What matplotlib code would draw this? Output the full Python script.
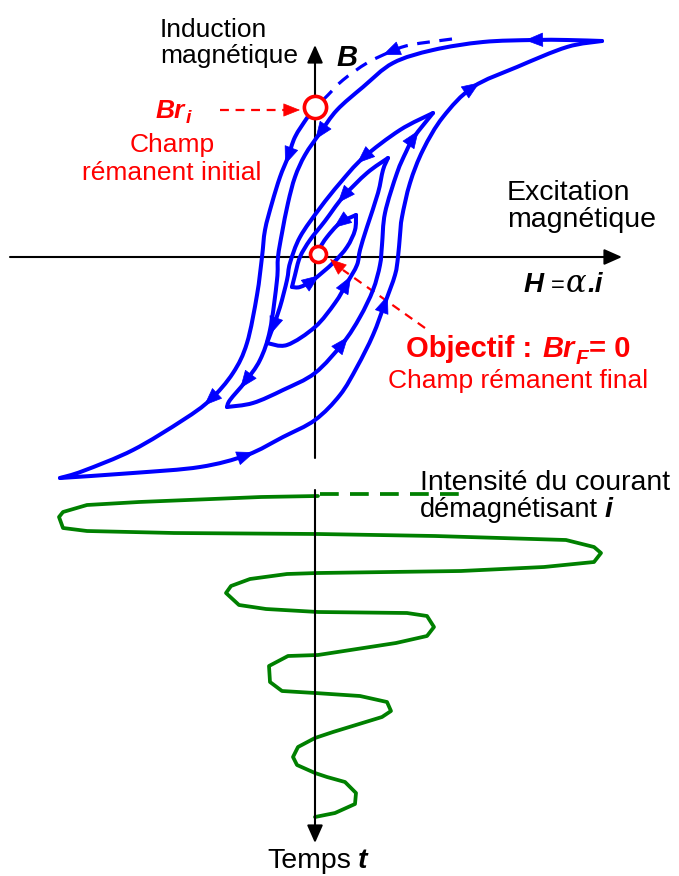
import numpy as np
import matplotlib.pyplot as plt
from matplotlib.path import Path
from matplotlib.patches import PathPatch

plt.rcParams['font.family'] = ['Liberation Sans', 'DejaVu Sans']

BLUE = '#0000ff'
GREEN = '#008000'
RED = '#ff0000'

# hysteresis spiral, drawing units (H to the right, B downwards as on the page)
dashed_start = [(452, 39), (410, 45), (390, 52), (367, 63), (343, 80), (328, 95), (319, 104)]
d0 = [(315, 107), (307, 118), (295, 137), (288, 157), (280, 177), (272, 203), (265, 230),
      (262, 257), (257, 295), (247, 343), (233, 373), (210, 400), (183, 420), (133, 450),
      (83, 471), (60, 478)]
a1 = [(60, 478), (133, 473), (200, 467), (247, 455), (283, 437), (315, 420), (340, 395),
      (357, 367), (373, 335), (385, 303), (395, 275), (398, 257), (400, 235), (402, 217),
      (410, 183), (423, 150), (443, 117), (473, 87), (517, 67), (567, 47), (602, 41)]
d1 = [(602, 41), (567, 40), (533, 40), (483, 42), (433, 50), (393, 63), (363, 87),
      (337, 110), (320, 133), (305, 155), (295, 177), (288, 203), (282, 233), (278, 257),
      (277, 280), (270, 330), (260, 360), (245, 382), (230, 400), (227, 407)]
a2 = [(227, 407), (253, 403), (283, 390), (315, 373), (343, 343), (360, 317), (373, 290),
      (380, 265), (382, 245), (385, 213), (397, 173), (406, 152), (414, 137), (433, 113)]
d2 = [(433, 113), (400, 130), (363, 158), (340, 183), (320, 208), (300, 237), (290, 263),
      (287, 280), (280, 307), (273, 327), (267, 343)]
a3 = [(267, 343), (287, 345), (315, 327), (335, 303), (347, 283), (357, 265), (360, 250),
      (367, 227), (378, 193), (383, 170), (388, 158)]
d3 = [(388, 158), (367, 173), (343, 197), (325, 221), (310, 240), (300, 257), (295, 275),
      (292, 287)]
a4 = [(292, 287), (300, 287), (313, 280), (333, 263), (347, 247), (355, 230), (356, 215)]
d4 = [(356, 215), (340, 223), (327, 237), (319, 249)]

branches = [d0, a1, d1, a2, d2, a3, d3, a4, d4]
# which point of each branch carries a direction arrow
arrow_idx = {'dashed': [2], 'd0': [3, 11], 'a1': [3, 9, 17], 'd1': [2, 8, 17],
             'a2': [4, 12], 'd2': [2, 9], 'a3': [4], 'd3': [2], 'a4': [2], 'd4': [1]}

# demagnetising current vs time
current = [(318, 496), (261, 497), (139, 502), (87, 505), (63, 512), (59, 517), (63, 528),
           (87, 531), (174, 533), (318, 534), (435, 536), (566, 540), (594, 547), (601, 553),
           (594, 562), (544, 567), (461, 571), (318, 573), (287, 574), (250, 579), (231, 586),
           (226, 593), (239, 605), (266, 609), (318, 612), (407, 613), (427, 616), (434, 627),
           (427, 636), (396, 643), (318, 655), (288, 656), (269, 666), (270, 682), (282, 691),
           (315, 693), (360, 696), (387, 702), (391, 711), (382, 717), (333, 732), (315, 738),
           (298, 747), (293, 757), (297, 765), (315, 773), (327, 777), (345, 782), (356, 793),
           (355, 804), (335, 813), (315, 817)]
current_dashed = [(320, 494), (464, 494)]

br_initial = (315, 107)
br_final = (318, 254)


def smooth_path(pts):
    p = np.array(pts, dtype=float)
    n = len(p)
    verts = [p[0]]
    codes = [Path.MOVETO]
    for i in range(n - 1):
        p0 = p[max(i - 1, 0)]
        p1 = p[i]
        p2 = p[i + 1]
        p3 = p[min(i + 2, n - 1)]
        verts += [p1 + (p2 - p0) / 6, p2 - (p3 - p1) / 6, p2]
        codes += [Path.CURVE4] * 3
    return Path(verts, codes)


def head(ax, pts, i, color, size=8):
    p = np.array(pts, dtype=float)
    d = p[min(i + 1, len(p) - 1)] - p[max(i - 1, 0)]
    d = d / np.hypot(*d)
    ax.annotate('', xy=p[i] + d * size, xytext=p[i] - d * size,
                arrowprops=dict(arrowstyle='-|>,head_length=0.5,head_width=0.2',
                                color=color, lw=0.5, mutation_scale=24,
                                shrinkA=0, shrinkB=0), zorder=4)


def text_after(fig, ax, prev, gap, y, s, **kw):
    # put s just right of the previously drawn text
    fig.canvas.draw()
    x1 = prev.get_window_extent().x1
    return ax.text(x1 + gap, y, s, va='baseline', **kw)


fig = plt.figure(figsize=(6.79, 8.76), dpi=100)
ax = fig.add_axes([0, 0, 1, 1])
ax.set_xlim(0, 679)
ax.set_ylim(876, 0)
ax.axis('off')

# axes of the diagram
axis_style = dict(arrowstyle='-|>,head_length=0.54,head_width=0.24', color='black',
                  lw=1.5, mutation_scale=20, shrinkA=0, shrinkB=0)
ax.annotate('', xy=(622, 257), xytext=(10, 257), arrowprops=axis_style)
ax.annotate('', xy=(315, 45), xytext=(315, 458), arrowprops=axis_style)
ax.annotate('', xy=(315, 843), xytext=(315, 490), arrowprops=axis_style)

# hysteresis
for b in branches:
    ax.add_patch(PathPatch(smooth_path(b), fill=False, ec=BLUE, lw=2.9,
                           capstyle='round', joinstyle='round', zorder=3))
dp = PathPatch(smooth_path(dashed_start), fill=False, ec=BLUE, lw=2.3, zorder=3)
dp.set_linestyle((0, (4, 3)))
ax.add_patch(dp)

names = ['d0', 'a1', 'd1', 'a2', 'd2', 'a3', 'd3', 'a4', 'd4']
for name, b in zip(names, branches):
    for i in arrow_idx[name]:
        head(ax, b, i, BLUE)
head(ax, dashed_start, arrow_idx['dashed'][0], BLUE)

# current
cx, cy = zip(*current)
ax.plot(cx, cy, color=GREEN, lw=2.7, solid_joinstyle='round', solid_capstyle='round')
dx, dy = zip(*current_dashed)
ax.plot(dx, dy, color=GREEN, lw=2.7, dashes=(5, 3))

# remanent points
ax.plot(*br_initial, 'o', ms=16, mfc='white', mec=RED, mew=2.6, zorder=5)
ax.plot(*br_final, 'o', ms=11.5, mfc='white', mec=RED, mew=2.6, zorder=5)

# red pointers
red_head = dict(arrowstyle='-|>,head_length=0.55,head_width=0.22', color=RED,
                lw=0.5, mutation_scale=20, shrinkA=0, shrinkB=0)
ax.plot([220, 288], [110, 110], color=RED, lw=1.6, dashes=(4, 3))
ax.annotate('', xy=(300, 110), xytext=(286, 110), arrowprops=red_head)
ax.plot([425, 343], [328, 270], color=RED, lw=1.6, dashes=(4, 3))
ax.annotate('', xy=(330, 259), xytext=(344, 271), arrowprops=red_head)

# texts
fs = 19
fs2 = 20.5
ax.text(160, 37, 'Induction', fontsize=fs, va='baseline')
ax.text(160, 63, 'magnétique', fontsize=fs, va='baseline')
ax.text(336, 66, 'B', fontsize=21, fontweight='bold', style='italic', va='baseline')

ax.text(156, 118, 'Br', fontsize=fs, fontweight='bold', style='italic', color=RED, va='baseline')
ax.text(186, 123, 'i', fontsize=14, fontweight='bold', style='italic', color=RED, va='baseline')
ax.text(172, 152, 'Champ', fontsize=fs, color=RED, ha='center', va='baseline')
ax.text(172, 180, 'rémanent initial', fontsize=fs, color=RED, ha='center', va='baseline')

ax.text(507, 200, 'Excitation', fontsize=fs2, va='baseline')
ax.text(507, 227, 'magnétique', fontsize=fs2, va='baseline')
ax.text(524, 292, 'H', fontsize=20, fontweight='bold', style='italic', va='baseline')
ax.text(551, 292, '=', fontsize=17, va='baseline')
ax.text(566, 292, 'α', fontsize=22, style='italic', family='DejaVu Serif', va='baseline')
ax.text(587, 292, '.i', fontsize=20, fontweight='bold', style='italic', va='baseline')

ax.text(406, 357, 'Objectif :', fontsize=21, fontweight='bold', color=RED, va='baseline')
ax.text(542, 357, 'Br', fontsize=21, fontweight='bold', style='italic', color=RED, va='baseline')
ax.text(576, 364, 'F', fontsize=15, fontweight='bold', style='italic', color=RED, va='baseline')
ax.text(589, 357, '= 0', fontsize=21, fontweight='bold', color=RED, va='baseline')
ax.text(518, 388, 'Champ rémanent final', fontsize=fs, color=RED, ha='center', va='baseline')

ax.text(420, 490, 'Intensité du courant', fontsize=fs2, va='baseline')
dem = ax.text(420, 517, 'démagnétisant', fontsize=19.5, va='baseline')
text_after(fig, ax, dem, 7, 517, 'i', fontsize=fs2, fontweight='bold', style='italic')

temps = ax.text(267, 868, 'Temps', fontsize=fs2, va='baseline')
text_after(fig, ax, temps, 7, 868, 't', fontsize=fs2, fontweight='bold', style='italic')

fig.savefig('out.png', dpi=100)
